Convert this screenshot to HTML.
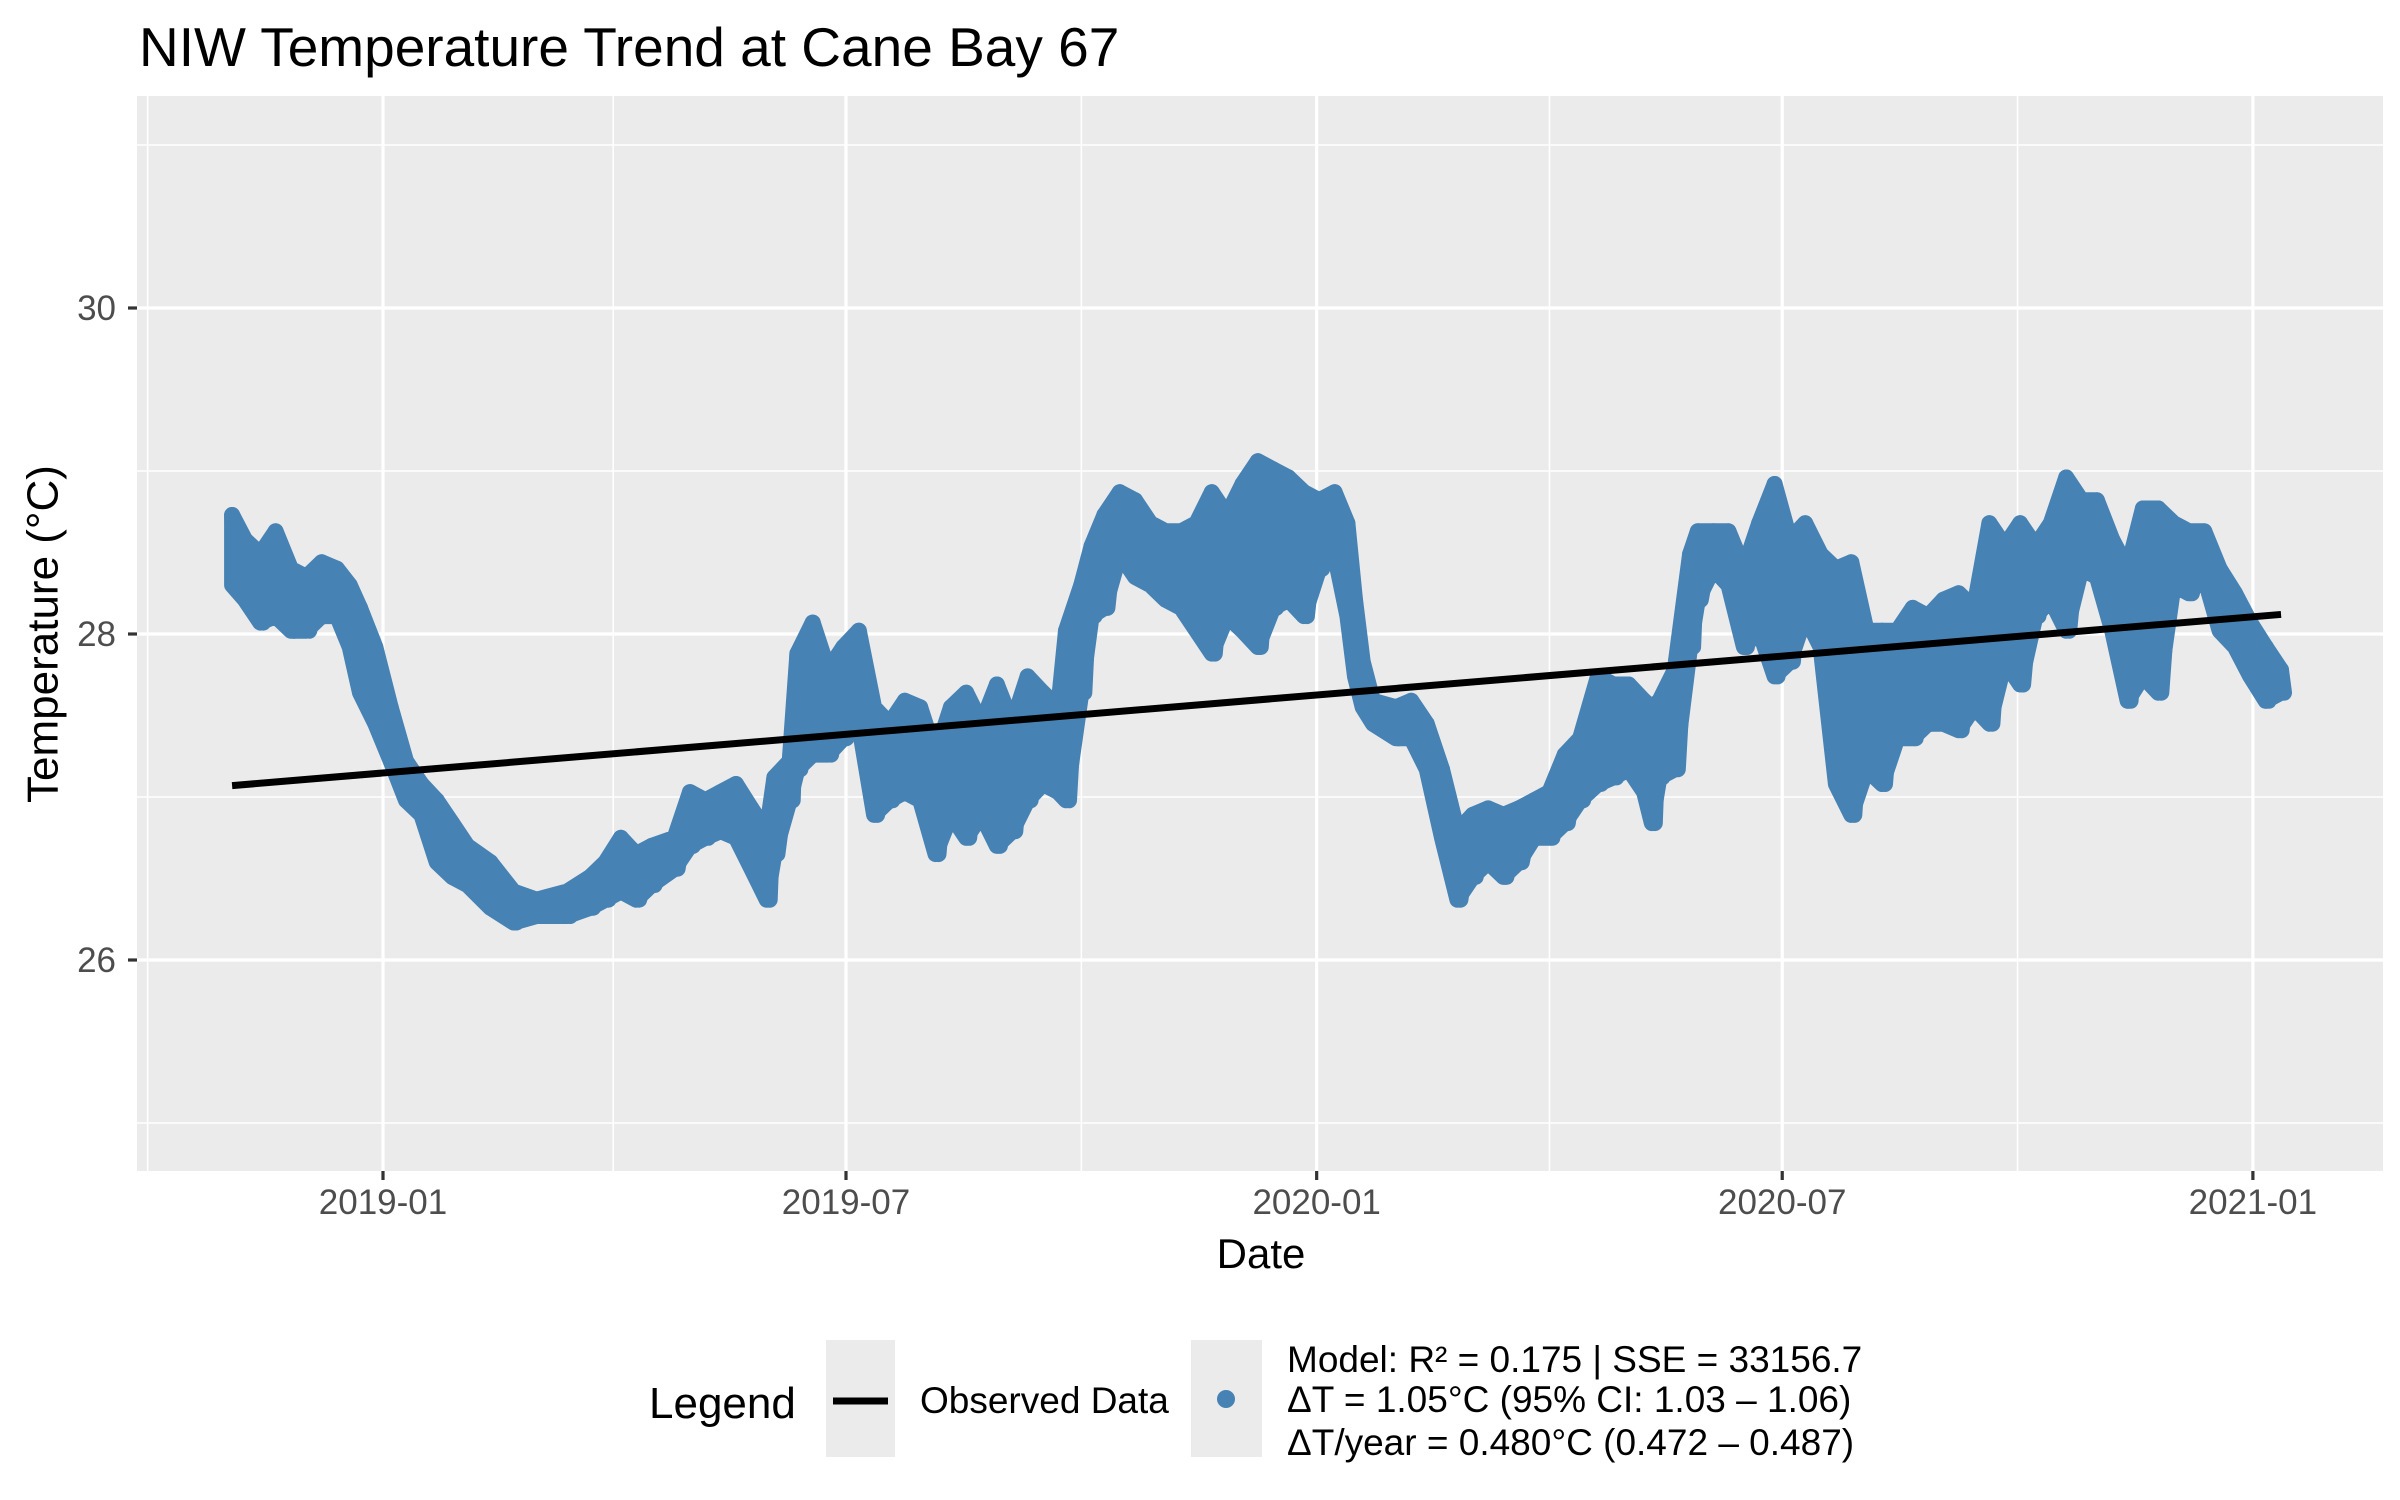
<!DOCTYPE html>
<html><head><meta charset="utf-8"><style>
html,body{margin:0;padding:0;background:#fff;}
svg{display:block;font-family:"Liberation Sans",Arial,sans-serif;}
</style></head><body>
<svg id="chart" width="2400" height="1500" viewBox="0 0 2400 1500">
<text x="139" y="66" font-size="55" fill="#000">NIW Temperature Trend at Cane Bay 67</text>
<rect x="137" y="96" width="2246" height="1075" fill="#ebebeb"/>
<g id="grid"></g>
<g id="series"></g>
<g id="trend"></g>
<g id="axes"></g>
<text x="43" y="634" font-size="44" text-anchor="middle" transform="rotate(-90 43 634)" dominant-baseline="central">Temperature (°C)</text>
<text x="1261" y="1268" font-size="42" text-anchor="middle">Date</text>
<g>
<text x="649" y="1418" font-size="44">Legend</text>
<rect x="826" y="1340" width="69" height="117" fill="#ebebeb"/>
<line x1="833" y1="1401" x2="888" y2="1401" stroke="#000" stroke-width="7"/>
<text x="920" y="1413" font-size="37">Observed Data</text>
<rect x="1191" y="1340" width="71" height="117" fill="#ebebeb"/>
<ellipse cx="1226" cy="1399" rx="9" ry="9" fill="#4682b4"/>
<text x="1287" y="1372" font-size="37">Model: R² = 0.175 | SSE = 33156.7</text>
<text x="1287" y="1412" font-size="37">ΔT = 1.05°C (95% CI: 1.03 – 1.06)</text>
<text x="1287" y="1455" font-size="37">ΔT/year = 0.480°C (0.472 – 0.487)</text>
</g>
</svg>
<script>
// day offsets from 2019-01-01
const days=[-59,-54,-48,-42,-36,-30,-24,-18,-13,-9,-3,3,9,15,21,27,33,42,51,60,72,81,87,93,99,105,114,120,126,132,138,144,150,153,159,162,168,174,180,186,192,198,204,210,216,222,228,234,240,246,252,258,264,267,273,277,282,288,294,300,306,312,318,324,330,336,342,348,354,360,366,372,377,380,383,387,396,402,408,414,420,426,432,438,444,450,456,462,468,475,481,487,493,496,499,505,511,514,520,526,532,538,544,550,556,562,568,574,580,586,592,598,604,610,616,622,628,634,640,646,652,658,664,670,676,682,688,694,700,706,712,718,724,730,736,742];
const hiTemp=[28.73,28.58,28.49,28.63,28.40,28.35,28.44,28.40,28.30,28.16,27.92,27.55,27.22,27.08,26.98,26.84,26.70,26.60,26.42,26.37,26.42,26.51,26.60,26.75,26.65,26.70,26.75,27.03,26.98,27.03,27.08,26.93,26.79,27.12,27.22,27.88,28.07,27.78,27.92,28.02,27.55,27.45,27.59,27.55,27.26,27.55,27.64,27.45,27.69,27.45,27.74,27.64,27.55,28.02,28.30,28.54,28.73,28.87,28.82,28.68,28.63,28.63,28.68,28.87,28.73,28.92,29.06,29.01,28.96,28.87,28.82,28.87,28.68,28.21,27.83,27.59,27.55,27.59,27.45,27.17,26.79,26.89,26.93,26.89,26.93,26.98,27.03,27.26,27.36,27.74,27.69,27.69,27.59,27.55,27.59,27.78,28.49,28.63,28.63,28.63,28.40,28.68,28.92,28.58,28.68,28.49,28.40,28.44,28.02,28.02,28.02,28.16,28.11,28.21,28.25,28.16,28.68,28.54,28.68,28.54,28.68,28.96,28.82,28.82,28.58,28.40,28.77,28.77,28.68,28.63,28.63,28.40,28.25,28.07,27.92,27.78];
const loTemp=[28.30,28.21,28.07,28.11,28.02,28.02,28.11,28.11,27.92,27.64,27.45,27.22,26.98,26.89,26.60,26.51,26.46,26.32,26.23,26.27,26.27,26.32,26.37,26.42,26.37,26.46,26.56,26.70,26.75,26.79,26.75,26.56,26.37,26.65,26.98,27.17,27.26,27.26,27.36,27.45,26.89,26.98,27.03,26.98,26.65,26.89,26.75,26.89,26.70,26.79,26.98,27.08,27.03,26.98,27.64,28.11,28.16,28.49,28.35,28.30,28.21,28.16,28.02,27.88,28.11,28.02,27.92,28.16,28.21,28.11,28.40,28.49,28.11,27.74,27.55,27.45,27.36,27.36,27.17,26.75,26.37,26.51,26.60,26.51,26.60,26.75,26.75,26.84,26.98,27.08,27.12,27.17,27.03,26.84,27.12,27.17,27.92,28.21,28.40,28.30,27.92,28.02,27.74,27.83,28.11,27.92,27.08,26.89,27.17,27.08,27.36,27.36,27.45,27.45,27.41,27.55,27.45,27.83,27.69,28.11,28.21,28.02,28.40,28.35,28.02,27.59,27.74,27.64,28.30,28.25,28.35,28.02,27.92,27.74,27.59,27.64];
const trendDays=[-59,742];
const trendTemp=[27.07,28.12];
const yMajor=[26,28,30];
const yMinor=[25,27,29,31];
const xMajorDays=[0,181,365,547,731];
const xMajorLabels=["2019-01","2019-07","2020-01","2020-07","2021-01"];
const xMinorDays=[-92,90,273,456,639];

const NS="http://www.w3.org/2000/svg";
const PL=137,PR=2383,PT=96,PB=1171;
function xS(d){return 383+d*2.558;}
function yS(t){return 634-(t-28)*163;}
function mk(tag,attrs,parent){const e=document.createElementNS(NS,tag);for(const k in attrs)e.setAttribute(k,attrs[k]);parent.appendChild(e);return e;}
const grid=document.getElementById('grid'),axes=document.getElementById('axes'),series=document.getElementById('series'),trend=document.getElementById('trend');
yMinor.forEach(v=>{const l=mk('line',{x1:PL,x2:PR,y1:yS(v),y2:yS(v),stroke:'#fff','stroke-width':1.6},grid);

});
xMinorDays.forEach(d=>{const l=mk('line',{x1:xS(d),x2:xS(d),y1:PT,y2:PB,stroke:'#fff','stroke-width':1.6},grid);

});
yMajor.forEach(v=>{const l=mk('line',{x1:PL,x2:PR,y1:yS(v),y2:yS(v),stroke:'#fff','stroke-width':3.2},grid);


const t=mk('line',{x1:128,x2:137,y1:yS(v),y2:yS(v),stroke:'#333','stroke-width':3.2},axes);


const tx=mk('text',{x:116,y:yS(v)+12,'font-size':35,'text-anchor':'end',fill:'#4d4d4d'},axes);
tx.textContent=String(v);

});
xMajorDays.forEach((d,i)=>{const l=mk('line',{x1:xS(d),x2:xS(d),y1:PT,y2:PB,stroke:'#fff','stroke-width':3.2},grid);


const t=mk('line',{x1:xS(d),x2:xS(d),y1:PB,y2:PB+9,stroke:'#333','stroke-width':3.2},axes);


const tx=mk('text',{x:xS(d),y:PB+43,'font-size':35,'text-anchor':'middle',fill:'#4d4d4d'},axes);
tx.textContent=xMajorLabels[i];

});
let pts=[];
days.forEach((d,i)=>pts.push(xS(d).toFixed(1)+','+yS(hiTemp[i]).toFixed(1)));
for(let i=days.length-1;i>=0;i--)pts.push(xS(days[i]).toFixed(1)+','+yS(loTemp[i]).toFixed(1));
const band=mk('polygon',{points:pts.join(' '),fill:'#4682b4',stroke:'#4682b4','stroke-width':16,'stroke-linejoin':'round'},series);


let zz=[];
days.forEach((d,i)=>{zz.push(xS(d).toFixed(1)+','+yS(hiTemp[i]).toFixed(1));zz.push((xS(d)+3).toFixed(1)+','+yS(loTemp[i]).toFixed(1));});
const zl=mk('polyline',{points:zz.join(' '),fill:'none',stroke:'#4682b4','stroke-width':16,'stroke-linejoin':'round','stroke-linecap':'round'},series);


const tl=mk('line',{x1:xS(trendDays[0]),y1:yS(trendTemp[0]),x2:xS(trendDays[1]),y2:yS(trendTemp[1]),stroke:'#000','stroke-width':7},trend);


</script>
</body></html>
